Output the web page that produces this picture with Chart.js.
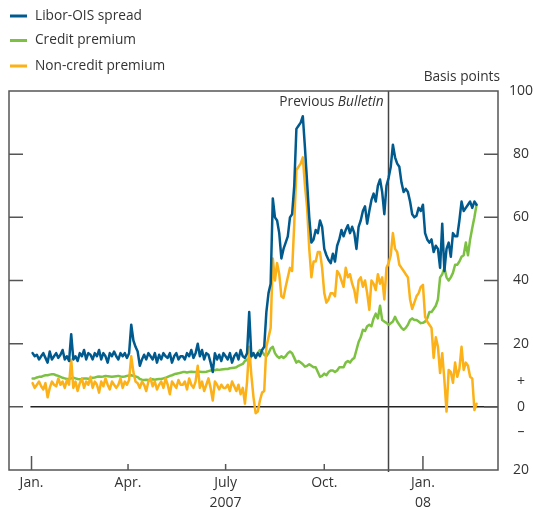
<!DOCTYPE html>
<html><head><meta charset="utf-8">
<script src="https://cdn.jsdelivr.net/npm/chart.js@4.4.1/dist/chart.umd.min.js"></script>
<style>html,body{margin:0;padding:0;background:#fff;}#wrap{width:533px;height:510px;position:relative;}</style>
</head><body><div id="wrap"><canvas id="c" width="533" height="510"></canvas></div>
<script>
const seriesNames = ['Libor-OIS spread', 'Credit premium', 'Non-credit premium'];
const firstDate = '2007-01-02';
const stepDays = 2;

const liborOis = [
17,16,16.5,15,16,17,15.5,14,17.5,15,16,17,15.5,16.5,18,15,16,14.5,23,15,
16,14.5,17,16,18,15,17,16.5,15,17,16,18,15,17,16,14,17,16,17.5,16,
15,17,16,17,15.5,17,26,21,19,17.5,
13,15,16.5,15,17,16,15,17,14,16.5,15,17,16,15.5,17,14,16,17,15,16,
16,15,17,16,18,15.5,17,20,16,18,15,17,16.5,14,11,17,15,16.5,14.5,17,
16,15,17,14,16,17,15,18,16,15.5,17,30,16,17,15.5,17,16,18,19,30,
36,39,66,60,59,55,47,50,52,54,60,61,70,88,89,90,92,82,71,60,52,53,56,55,59,57,50,48,46.5,45.5,
48.5,46,51,53,56,54,56,57.5,55,57,55,50,57,59,62,63.5,58,62,65.5,67.5,65,70,72,68,61,70,72.5,76,83,79,77,76,71,68,69,68,65,61,60,60.5,63,62,64,55,53,52,53,49,51,50,44,58,43,50,52,47.5,55,54,54,59,65,62,63,64,65,63,65,64
];

const creditPremium = [
9,9,9.3,9.5,9.5,9.8,10,10,10.2,10.3,10.3,10,9.8,9.5,9.2,9,8.8,8.8,9,9.2,
9,8.8,8.7,8.8,9,9,8.9,9,9.2,9.3,9.5,9.6,9.5,9.6,9.8,9.7,9.6,9.5,9.6,9.7,
9.8,9.6,9.5,9.6,9.8,9.9,10,9.8,9.6,9.4,
8.8,8.6,8.5,8.6,8.5,8.6,8.7,8.6,8.7,8.8,8.8,9,9.2,9.5,9.8,10,10.3,10.5,10.6,10.8,
11,11,10.9,11,11.1,11,11,11.2,11.1,11,11,11.1,11.3,11.5,11.7,11.6,11.8,11.7,11.8,11.9,
12,12,12.2,12.3,12.4,12.5,13,13.3,13.6,14.5,
15,14.5,16,16.5,16,17,18,17.5,16.5,16,17,18.5,19,17,16,15.5,16,15.5,16,17,17.5,17,15.5,14,14.5,14,13.5,12.7,13,13.5,13,12.5,12.5,11,9.5,9.8,10.5,10,11,11.5,
11.5,11,11.5,12.5,12.5,12.5,14,14.5,14,15,15.5,18,20.5,22,24.4,24,25.5,26,25.5,28,29.5,28,32,27.5,27,26.6,26,26.5,27,28.5,27,26,25,24.4,25,26,27.5,28,27.5,27.5,27,26.5,26.6,27,28,30,30,31,32,34,41,42,44,41,40,41,42.4,45,45,46,47.5,48,52,48,53,56.6,60,64
];

const nonCreditPremium = [
7.5,6,7,8,6.5,5.5,7.5,3,6,8,7,6.5,9,7,8,6,8.5,7,15,6,
8,5,7.5,9,6,8,7,9.5,6,8,7,4.5,8,6.5,9,7,5.5,8,7,6,
7,9,6,8,7,8.5,16,11,8,7.5,
6,8,7,5,8,9,6.5,8,5.5,7,8,6,9,7,4,8,7,6,8.5,7,
7,8,5.5,9,7,6,8,13,6,8,5,7,9,6,2,8,7,5.5,7,6,
6,7,5,8,6.5,5,7,4,6,1,8,19,10,3,-2,-1.5,2,4.5,5,19,
22,25,47,40,45.5,42,35,34.5,38,41,44,43,58,75,76,77,79,70,63,50,41,46,46,49,49,44,36,33,34,36,
36,35,43,42,40,38,44,41,42,39,37,33,40,41,38,40,36,30.7,40,39,37,42,39,41,34,44,45.5,48,55,50,49,45,44,43,42,41,34,31,33,35,36,38,38.6,28.5,27,26,25,15.5,22,19,10.7,17,8.5,-1.5,11.7,11,7.6,14,9.5,12,19,11.7,14,13,9.5,9,-1,1
];

const xTickDates = ['2007-01-01', '2007-04-01', '2007-07-01', '2007-10-01', '2008-01-01'];
const xTickLabels = [['Jan.'], ['Apr.'], ['July', '2007'], ['Oct.'], ['Jan.', '08']];
const yTickValues = [-20, -8, 0, 8, 20, 40, 60, 80, 100];
const yTickLabels = ['20', '\u2013', '0', '+', '20', '40', '60', '80', '100'];
const yMarkValues = [0, 20, 40, 60, 80];
const previousBulletinDate = '2007-11-29';
const axisStartDate = '2006-12-11';
const axisEndDate = '2008-03-11';

const BASE = Date.UTC(2007, 0, 1);
function dayOf(s) { const p = s.split('-').map(Number); return (Date.UTC(p[0], p[1] - 1, p[2]) - BASE) / 86400000; }
const firstDay = dayOf(firstDate);
const toPoints = arr => arr.map((v, i) => ({ x: firstDay + i * stepDays, y: v }));

const FONT = "'Open Sans', 'Noto Sans', sans-serif";
const TEXT = '#333333';
const FRAME = '#555555';
const COLORS = ['#005a8e', '#7cc142', '#fbb117'];
const LABEL_PX = '13.7px ';

const decor = {
  id: 'decor',
  beforeDatasetsDraw(chart) {
    const { ctx, chartArea: a, scales: { x, y } } = chart;
    ctx.save();
    const y0 = y.getPixelForValue(0);
    ctx.strokeStyle = '#222'; ctx.lineWidth = 1.5;
    ctx.beginPath(); ctx.moveTo(x.getPixelForValue(-1), y0); ctx.lineTo(a.right, y0); ctx.stroke();
    const px = Math.round(x.getPixelForValue(dayOf(previousBulletinDate))) + 0.5;
    ctx.strokeStyle = '#444'; ctx.lineWidth = 1.5;
    ctx.beginPath(); ctx.moveTo(px, a.top); ctx.lineTo(px, a.bottom + 2); ctx.stroke();
    ctx.restore();
  },
  afterDraw(chart) {
    const { ctx, chartArea: a, scales: { x, y } } = chart;
    ctx.save();
    ctx.strokeStyle = FRAME; ctx.lineWidth = 1.5;
    ctx.strokeRect(a.left, a.top, a.right - a.left, a.bottom - a.top);
    yMarkValues.forEach(v => {
      const py = y.getPixelForValue(v);
      ctx.beginPath(); ctx.moveTo(a.left, py); ctx.lineTo(a.left + 14, py);
      ctx.moveTo(a.right - 14, py); ctx.lineTo(a.right, py); ctx.stroke();
    });
    xTickDates.forEach(d => {
      const px = x.getPixelForValue(dayOf(d));
      const len = d.endsWith('-01-01') ? 14 : 6;
      ctx.beginPath(); ctx.moveTo(px, a.bottom); ctx.lineTo(px, a.bottom - len); ctx.stroke();
    });
    // legend
    const ly = [16, 40.5, 66];
    ctx.font = LABEL_PX + FONT; ctx.textBaseline = 'middle'; ctx.textAlign = 'left';
    seriesNames.forEach((n, i) => {
      ctx.strokeStyle = COLORS[i]; ctx.lineWidth = 3;
      ctx.beginPath(); ctx.moveTo(10, ly[i]); ctx.lineTo(27, ly[i]); ctx.stroke();
      ctx.fillStyle = TEXT; ctx.fillText(n, 35, ly[i]);
    });
    // basis points
    ctx.font = LABEL_PX + FONT; ctx.textAlign = 'right'; ctx.fillStyle = TEXT;
    ctx.fillText('Basis points', 500, 77);
    // previous bulletin label
    const px = x.getPixelForValue(dayOf(previousBulletinDate)) - 4;
    ctx.font = 'italic ' + LABEL_PX + FONT;
    const wB = ctx.measureText('Bulletin').width;
    ctx.fillText('Bulletin', px, 102);
    ctx.font = LABEL_PX + FONT;
    ctx.fillText('Previous ', px - wB, 102);
    ctx.restore();
  }
};

new Chart(document.getElementById('c'), {
  type: 'line',
  data: {
    datasets: [
      { label: seriesNames[0], data: toPoints(liborOis), borderColor: COLORS[0], order: 0 },
      { label: seriesNames[1], data: toPoints(creditPremium), borderColor: COLORS[1], order: 2 },
      { label: seriesNames[2], data: toPoints(nonCreditPremium), borderColor: COLORS[2], order: 1 }
    ]
  },
  options: {
    responsive: false, animation: false, devicePixelRatio: 1,
    layout: { padding: { top: 91, left: 9, right: 0, bottom: 0 } },
    plugins: { legend: { display: false }, tooltip: { enabled: false } },
    elements: { point: { radius: 0 }, line: { tension: 0, borderWidth: 2.5, borderJoinStyle: 'round', borderCapStyle: 'round', fill: false } },
    scales: {
      x: {
        type: 'linear', position: 'bottom', min: dayOf(axisStartDate), max: dayOf(axisEndDate),
        grid: { display: false, drawTicks: false }, border: { display: false },
        afterBuildTicks: s => { s.ticks = xTickDates.map(d => ({ value: dayOf(d) })); },
        afterFit: s => { s.height = 40; },
        ticks: {
          autoSkip: false, maxRotation: 0, minRotation: 0, padding: 3, color: TEXT,
          font: { family: FONT, size: 14, lineHeight: 1.43 },
          callback: v => { const i = xTickDates.findIndex(d => dayOf(d) === v); return i >= 0 ? xTickLabels[i] : ''; }
        }
      },
      y: {
        type: 'linear', position: 'right', min: -20, max: 100,
        grid: { display: false, drawTicks: false }, border: { display: false },
        afterBuildTicks: s => { s.ticks = yTickValues.map(v => ({ value: v })); },
        afterFit: s => { s.width = 35; },
        ticks: {
          autoSkip: false, crossAlign: 'center', padding: 11, color: TEXT,
          font: { family: FONT, size: 14 },
          callback: v => { const i = yTickValues.indexOf(v); return i >= 0 ? yTickLabels[i] : ''; }
        }
      }
    }
  },
  plugins: [decor]
});
</script></body></html>
